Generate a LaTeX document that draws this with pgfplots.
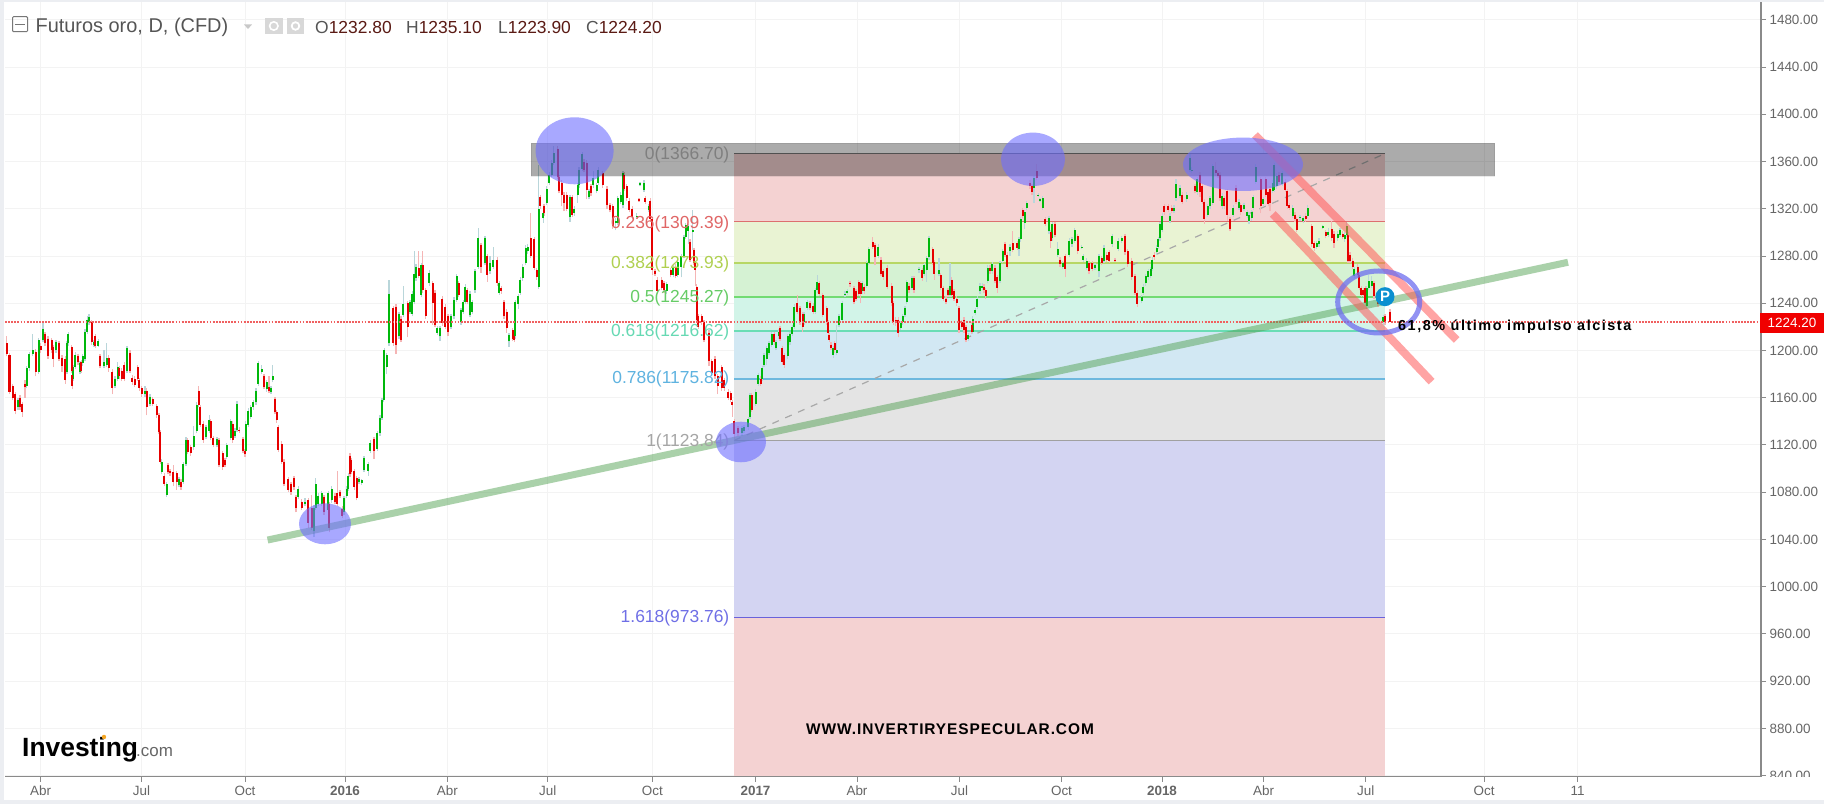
\documentclass[border=0pt]{standalone}
\usepackage{fontspec}
\usepackage{pgfplots}
\usepackage{pgfplotstable}
\pgfplotsset{compat=1.18}
\setmainfont{Liberation Sans}
\newfontfamily\noteone[LetterSpace=10.5]{Liberation Sans}
\newfontfamily\notetwo[LetterSpace=6]{Liberation Sans}
\newcommand{\fsz}[1]{\fontsize{#1}{#1}\selectfont}

\definecolor{upbody}{HTML}{00B80C}
\definecolor{dnbody}{HTML}{E60000}
\definecolor{upwick}{HTML}{B9D6DA}
\definecolor{dnwick}{HTML}{F5B5B5}
\definecolor{gridc}{HTML}{F3F3F3}
\definecolor{axisc}{HTML}{8A8A8A}
\definecolor{txtc}{HTML}{666666}
\definecolor{ohlc}{HTML}{5A1A14}
\definecolor{stripc}{HTML}{ECEEF2}
\newcommand{\hc}[1]{\definecolor{#1}{HTML}{#1}}
\hc{F4D2D2}\hc{E9F3D3}\hc{D5F2D3}\hc{D2F4E8}\hc{D2E8F3}\hc{E4E4E4}\hc{D3D4F2}
\hc{787878}\hc{DD6F6F}\hc{B7D765}\hc{72DB72}\hc{6ADDB5}\hc{6DB8DE}\hc{A0A0A0}\hc{6A62DA}
\hc{A8A8A8}\hc{F06060}\hc{4F9F4F}\hc{FF5A5A}\hc{7F7F7F}\hc{E06666}\hc{B0D050}\hc{66CC66}
\hc{66D9B3}\hc{5FB3E0}\hc{A6A6A6}\hc{6F6FE6}\hc{6E6EFF}\hc{6E6EF0}\hc{0A8FD0}\hc{F00000}
\hc{777777}\hc{555555}\hc{C8C8C8}\hc{D8D8D8}\hc{F5A623}\hc{666666}

% daily candles: pixel column of the date, open, close, high, low
\pgfplotstableread{
x o c h l
6.7 1206 1197 1212 1195
9.5 1196 1165 1198 1163
12.7 1170 1160 1172 1158
15.3 1163 1149 1165 1146
18 1152 1158 1160 1150
20 1160 1152 1162 1150
22.3 1155 1148 1156 1144
25 1172 1169 1175 1160
26.7 1170 1185 1187 1168
29.3 1185 1197 1199 1183
32.7 1197 1200 1214 1195
35.7 1199 1182 1201 1178
38.7 1182 1209 1211 1180
40.7 1204 1200 1206 1198
43 1209 1218 1224 1207
45 1214 1206 1216 1204
48 1210 1195 1212 1193
51.7 1209 1200 1211 1198
53.3 1203 1193 1205 1186
56 1200 1207 1209 1198
59 1206 1193 1208 1191
62 1194 1187 1196 1182
65.3 1193 1175 1195 1172
67 1182 1206 1208 1180
68.3 1206 1214 1216 1204
71.7 1203 1183 1205 1181
72.3 1179 1170 1181 1167
73.3 1176 1186 1188 1174
75.3 1186 1196 1199 1184
78 1195 1190 1197 1188
80 1182 1189 1191 1180
81.3 1190 1183 1192 1181
82.7 1189 1195 1197 1187
85 1193 1216 1218 1191
87.3 1216 1226 1229 1214
89 1224 1228 1231 1222
91.7 1224 1207 1226 1205
94 1205 1207 1209 1203
95.3 1212 1204 1214 1202
98.3 1204 1208 1210 1203
100 1195 1187 1197 1185
104 1187 1190 1200 1185
106.7 1188 1194 1206 1186
108.7 1194 1185 1196 1182
112.3 1182 1168 1184 1163
115 1170 1176 1178 1168
117.7 1176 1186 1190 1174
119.3 1185 1178 1187 1176
121.7 1183 1176 1185 1174
124.3 1188 1176 1190 1174
127 1183 1202 1204 1181
130 1198 1183 1200 1181
132.3 1177 1173 1179 1171
134.7 1176 1171 1178 1169
137.7 1186 1176 1188 1174
139.3 1175 1168 1177 1166
141.7 1168 1163 1170 1161
145 1163 1166 1170 1161
146.7 1166 1152 1168 1145
150 1155 1161 1163 1153
152.7 1159 1155 1161 1153
156.7 1153 1145 1155 1143
159 1145 1131 1147 1129
160.3 1131 1106 1133 1104
161.7 1097 1106 1108 1095
164.3 1094 1087 1096 1085
166.7 1078 1087 1089 1076
168 1103 1097 1105 1095
170 1098 1096 1100 1094
173.3 1097 1089 1103 1085
176.7 1096 1089 1098 1082
179 1086 1091 1093 1084
181 1089 1084 1091 1082
183.3 1089 1104 1106 1087
186 1104 1124 1127 1102
187.7 1124 1114 1126 1112
190.7 1118 1113 1120 1111
193.7 1118 1128 1136 1116
196.7 1132 1154 1156 1130
198.7 1166 1154 1170 1152
200.3 1152 1137 1154 1135
203.3 1138 1124 1140 1122
206 1127 1135 1137 1125
209.3 1132 1141 1145 1130
210.7 1140 1126 1142 1124
213.3 1126 1120 1128 1118
217 1120 1125 1127 1118
219 1124 1103 1126 1101
222.7 1113 1101 1115 1099
225 1107 1103 1109 1101
226.7 1110 1120 1122 1108
230.7 1126 1140 1142 1124
232.7 1138 1124 1140 1122
235 1128 1132 1134 1126
237 1133 1155 1157 1131
239.3 1133 1132 1135 1130
243 1125 1115 1127 1113
245 1115 1112 1117 1110
245.7 1115 1138 1140 1113
248.3 1137 1149 1151 1135
250.7 1144 1152 1154 1142
253.3 1152 1156 1158 1150
256 1156 1166 1168 1154
258.3 1172 1189 1191 1170
261.7 1182 1184 1188 1180
264 1178 1169 1180 1167
266.7 1167 1173 1175 1165
269 1169 1166 1178 1164
271 1165 1168 1170 1163
272.7 1175 1178 1188 1173
275 1159 1148 1161 1146
276.7 1148 1141 1150 1139
278.3 1135 1116 1137 1114
281.7 1121 1106 1123 1104
284 1106 1087 1108 1085
288.3 1091 1082 1093 1080
291 1087 1080 1089 1078
294 1092 1084 1094 1082
296 1076 1067 1078 1063
298.3 1076 1083 1085 1074
301.7 1072 1067 1074 1065
305 1070 1072 1075 1068
308.3 1073 1054 1075 1050
311.7 1067 1050 1078 1048
314 1047 1067 1069 1042
315.7 1067 1087 1092 1065
318.3 1070 1077 1079 1068
321.7 1070 1079 1081 1068
324 1076 1063 1078 1061
328.3 1065 1079 1081 1063
329.3 1070 1050 1072 1046
331.7 1073 1083 1085 1071
335 1077 1072 1079 1070
337.3 1079 1070 1098 1068
340 1080 1077 1082 1075
342.3 1066 1060 1068 1058
344 1063 1075 1077 1061
346.7 1077 1083 1085 1075
348.3 1083 1094 1096 1081
350 1111 1095 1113 1093
351.3 1107 1097 1109 1095
354.3 1098 1084 1100 1082
356.7 1092 1075 1094 1073
359 1089 1091 1093 1087
361.7 1088 1090 1091 1086
364 1099 1109 1111 1097
368.3 1098 1104 1106 1094
370.3 1115 1122 1124 1113
374 1125 1115 1127 1108
377.3 1117 1130 1132 1115
380 1130 1143 1145 1128
382 1143 1158 1160 1141
383.7 1158 1175 1177 1156
384.3 1175 1200 1202 1173
386.7 1186 1196 1198 1180
389 1206 1248 1260 1204
393.3 1236 1206 1238 1204
396 1237 1205 1239 1197
399 1212 1231 1233 1210
401 1227 1209 1229 1207
403.3 1230 1239 1255 1228
407.7 1240 1220 1242 1211
410 1233 1241 1243 1231
412.3 1231 1248 1250 1229
414.3 1241 1265 1284 1239
416 1261 1271 1273 1259
418.7 1270 1263 1284 1261
421.3 1247 1272 1274 1245
422.7 1272 1251 1284 1249
425.7 1251 1229 1253 1227
429.3 1257 1266 1268 1255
432.7 1257 1240 1259 1222
435 1249 1222 1251 1220
437.3 1215 1219 1221 1213
440 1212 1219 1221 1208
442.3 1244 1223 1246 1221
445.3 1237 1220 1239 1218
448 1229 1216 1231 1212
451 1220 1229 1231 1218
454 1229 1243 1245 1227
456.7 1243 1263 1265 1241
458.7 1257 1247 1259 1245
461 1224 1234 1236 1222
463.3 1233 1241 1243 1231
465.3 1241 1254 1256 1239
467.3 1251 1241 1253 1239
470 1230 1248 1250 1228
472.3 1233 1241 1243 1231
475 1251 1267 1269 1249
478.3 1271 1295 1304 1269
481 1289 1271 1291 1266
485 1274 1295 1297 1272
487.3 1280 1264 1282 1258
490 1267 1274 1280 1265
493.3 1271 1277 1288 1269
497.3 1277 1257 1279 1255
499.3 1249 1257 1259 1247
501.3 1253 1250 1255 1248
504 1241 1229 1243 1227
506.7 1233 1219 1235 1215
509 1208 1213 1215 1203
512.7 1217 1210 1219 1208
514.3 1212 1209 1214 1207
515.3 1212 1241 1243 1210
518.3 1239 1246 1248 1235
520.3 1249 1260 1262 1247
522.7 1261 1271 1273 1259
525.7 1274 1287 1289 1272
527.7 1284 1288 1290 1282
530.7 1295 1280 1316 1278
534.3 1294 1270 1296 1268
536.7 1268 1262 1270 1260
538.7 1254 1320 1357 1252
540.3 1330 1322 1332 1320
543.3 1312 1316 1318 1308
544 1322 1316 1324 1314
546.7 1325 1337 1339 1323
549.3 1342 1349 1351 1340
551.7 1349 1359 1361 1347
553.7 1359 1367 1373 1357
557.7 1371 1347 1373 1345
559 1347 1335 1349 1333
561.7 1342 1332 1344 1322
564 1332 1325 1334 1318
566.7 1332 1320 1334 1318
570 1313 1330 1332 1309
572.3 1330 1315 1332 1313
574.3 1316 1320 1322 1314
577.7 1332 1340 1342 1325
579 1340 1353 1355 1338
582.3 1354 1366 1368 1352
584 1360 1353 1362 1351
586.7 1359 1336 1361 1328
589 1330 1335 1337 1328
591 1339 1333 1341 1331
593.3 1340 1346 1352 1338
596.7 1335 1340 1342 1333
598.3 1342 1353 1355 1340
602.7 1350 1340 1352 1338
607 1337 1323 1339 1320
610 1323 1319 1325 1317
612.7 1322 1305 1324 1303
615.7 1308 1310 1312 1302
617.7 1308 1329 1331 1306
620.7 1326 1332 1334 1324
623 1323 1350 1352 1321
624.3 1349 1337 1351 1335
626.7 1339 1329 1341 1327
629.3 1327 1319 1329 1317
632.3 1320 1313 1322 1311
636.7 1313 1314 1316 1311
639 1328 1327 1329 1326
640 1340 1342 1343 1339
644 1336 1342 1344 1334
645.3 1329 1326 1331 1324
648.7 1319 1322 1324 1317
650.3 1327 1311 1329 1309
652.3 1311 1268 1313 1264
655 1267 1265 1269 1263
657.3 1260 1250 1262 1248
661.7 1260 1253 1262 1251
664 1257 1251 1259 1249
666.7 1250 1256 1258 1248
670.7 1268 1264 1270 1262
673.3 1264 1270 1272 1262
675.7 1271 1263 1273 1261
677.7 1264 1275 1277 1262
681.3 1271 1280 1282 1262
684 1280 1296 1298 1278
685.7 1296 1306 1308 1294
688.3 1301 1305 1307 1290
690 1292 1277 1294 1275
692.7 1300 1302 1319 1285
694 1285 1274 1287 1272
695.3 1274 1268 1276 1255
696.7 1254 1226 1256 1224
698.3 1229 1220 1231 1218
701.7 1229 1224 1231 1222
704 1224 1209 1226 1207
709 1215 1191 1217 1187
711.7 1191 1181 1193 1179
715 1193 1178 1195 1176
717.7 1178 1170 1180 1163
721.7 1186 1168 1188 1166
724.3 1175 1168 1177 1166
728.3 1165 1160 1167 1158
730.7 1164 1158 1166 1156
732.3 1156 1154 1158 1144
734.3 1140 1129 1142 1125
738 1134 1130 1136 1128
742 1130 1134 1136 1128
744 1132 1135 1137 1130
748.3 1135 1142 1144 1133
750 1144 1162 1164 1142
751.7 1162 1150 1164 1148
755.7 1155 1165 1167 1153
758.3 1172 1179 1181 1170
760.7 1176 1172 1178 1170
762.3 1176 1185 1187 1174
764 1188 1196 1198 1186
766.7 1193 1202 1204 1188
769 1198 1206 1208 1196
771.7 1205 1214 1216 1203
774.3 1214 1207 1216 1205
776 1202 1207 1209 1200
778.7 1212 1216 1218 1210
780 1219 1210 1221 1208
782.3 1202 1190 1204 1188
784.3 1196 1188 1198 1185
787.7 1195 1212 1214 1193
790 1207 1214 1216 1205
792.3 1214 1220 1222 1212
794.3 1220 1237 1239 1218
797.3 1240 1233 1247 1231
800 1236 1224 1238 1222
802.7 1231 1220 1233 1216
804 1224 1231 1233 1222
807.3 1236 1241 1243 1234
810 1240 1236 1242 1234
813.3 1238 1233 1240 1231
815.3 1233 1251 1253 1231
817.3 1251 1258 1264 1249
819.3 1257 1248 1259 1246
822.7 1247 1230 1249 1228
826.7 1236 1224 1238 1222
828.3 1224 1215 1226 1213
829.3 1213 1209 1215 1207
831 1205 1202 1207 1200
833.3 1196 1202 1204 1194
834.7 1206 1200 1208 1198
836.7 1198 1200 1222 1196
839 1222 1229 1231 1220
842.3 1226 1240 1242 1224
845 1247 1248 1250 1245
847.3 1249 1250 1252 1247
850 1257 1256 1259 1254
854 1253 1241 1255 1239
856 1250 1244 1252 1242
858.7 1258 1248 1260 1246
860.7 1257 1248 1259 1240
862.3 1250 1257 1259 1248
864.3 1254 1250 1256 1248
866.7 1255 1274 1276 1253
868.7 1274 1286 1288 1272
872.7 1292 1288 1296 1286
875 1289 1279 1291 1272
878.3 1280 1288 1290 1278
881 1277 1265 1279 1263
883.3 1267 1262 1269 1260
887.3 1270 1254 1272 1252
891.7 1255 1240 1257 1238
893.3 1240 1224 1242 1222
895.7 1226 1223 1228 1221
898.3 1226 1215 1228 1211
900.7 1219 1223 1225 1217
902.7 1224 1229 1231 1222
905 1230 1236 1238 1228
906.7 1241 1258 1260 1239
909 1255 1251 1257 1249
912 1253 1261 1263 1251
914 1261 1251 1263 1249
919 1268 1269 1271 1266
922.3 1268 1261 1270 1259
924.3 1265 1272 1274 1263
926.7 1268 1278 1280 1258
929 1279 1295 1297 1277
932.7 1286 1274 1288 1272
934.3 1275 1265 1277 1260
939 1265 1268 1278 1263
940.7 1264 1253 1266 1251
943.3 1253 1244 1255 1242
946 1244 1241 1246 1239
948 1251 1247 1253 1245
950 1247 1255 1274 1245
951.7 1260 1247 1262 1245
954 1250 1244 1252 1242
956.7 1244 1240 1246 1238
959 1236 1217 1238 1215
961.7 1224 1220 1226 1218
964 1226 1217 1228 1215
966 1220 1209 1222 1207
968.3 1210 1213 1215 1208
971.7 1222 1216 1224 1214
972.7 1216 1227 1229 1214
975.3 1232 1234 1236 1230
977.3 1237 1244 1246 1235
980 1250 1255 1257 1248
982.3 1253 1255 1257 1251
984 1254 1251 1256 1249
985.7 1251 1246 1253 1244
987.7 1259 1270 1272 1257
990 1270 1267 1272 1265
992.3 1267 1273 1275 1265
995 1270 1259 1272 1257
997.3 1262 1253 1264 1249
1000 1259 1274 1276 1257
1002.7 1276 1284 1286 1274
1005 1290 1281 1292 1279
1007.3 1281 1271 1283 1269
1010 1284 1288 1290 1280
1012.7 1291 1285 1301 1283
1017.3 1291 1287 1293 1285
1019 1286 1294 1296 1280
1020.7 1294 1311 1313 1292
1022.7 1319 1314 1321 1312
1024.7 1308 1317 1319 1303
1026.7 1321 1325 1327 1319
1030 1342 1339 1344 1337
1032 1339 1334 1341 1332
1034 1338 1346 1348 1325
1036.7 1352 1346 1358 1344
1038.3 1331 1332 1333 1330
1040 1327 1328 1329 1326
1042.7 1321 1329 1331 1319
1045.3 1311 1307 1313 1305
1049 1301 1312 1314 1299
1050.7 1300 1293 1302 1287
1052.3 1295 1307 1309 1293
1055 1307 1298 1309 1296
1057.7 1281 1286 1292 1279
1060 1277 1273 1279 1271
1062.7 1271 1274 1276 1269
1065.3 1280 1269 1282 1262
1069.3 1281 1293 1295 1279
1072 1290 1294 1296 1288
1074.7 1293 1302 1304 1291
1077.7 1297 1284 1299 1282
1081.7 1287 1288 1289 1286
1083.3 1277 1280 1282 1275
1086.7 1270 1276 1278 1268
1089 1274 1267 1276 1265
1092.3 1274 1269 1276 1267
1095 1270 1272 1274 1268
1099 1267 1280 1282 1262
1101.7 1278 1274 1280 1272
1104 1276 1287 1289 1274
1106.7 1281 1277 1283 1275
1109.3 1283 1276 1285 1274
1112.3 1290 1297 1299 1288
1115 1277 1276 1278 1275
1118.3 1286 1293 1295 1284
1121.7 1293 1295 1297 1291
1125 1297 1283 1299 1281
1127.7 1284 1273 1286 1271
1131.7 1276 1262 1278 1260
1135 1263 1249 1265 1247
1137.3 1249 1239 1251 1237
1141.7 1242 1245 1247 1240
1143.3 1249 1254 1256 1247
1145.7 1257 1263 1265 1255
1148.3 1262 1267 1269 1260
1150.7 1263 1269 1271 1261
1152.3 1269 1277 1279 1267
1154.3 1281 1279 1283 1277
1156.7 1283 1287 1289 1281
1158.3 1288 1294 1296 1286
1160 1295 1307 1309 1293
1162.3 1302 1314 1316 1300
1164.3 1322 1317 1324 1315
1168.3 1322 1319 1324 1317
1170 1310 1314 1316 1308
1171.7 1321 1318 1323 1316
1174 1318 1321 1323 1316
1176 1329 1341 1345 1327
1180 1331 1338 1340 1329
1182.3 1332 1326 1334 1324
1186.7 1328 1332 1334 1326
1190 1353 1363 1366 1351
1191.7 1352 1353 1355 1350
1195 1339 1335 1341 1333
1197.3 1334 1345 1347 1332
1200 1349 1334 1351 1330
1202.3 1339 1326 1341 1324
1204.3 1326 1311 1328 1307
1207.7 1315 1322 1324 1313
1210 1322 1329 1331 1320
1212.7 1325 1356 1358 1323
1215.7 1353 1350 1360 1348
1218 1350 1348 1352 1346
1220 1349 1329 1351 1327
1222.3 1322 1331 1333 1320
1224.3 1329 1322 1331 1320
1227.3 1335 1315 1337 1310
1230 1311 1303 1313 1301
1233.3 1315 1321 1323 1313
1236 1338 1326 1340 1324
1239 1321 1326 1328 1319
1240.7 1323 1317 1325 1315
1244 1320 1323 1325 1318
1247.3 1314 1317 1319 1312
1249 1310 1315 1317 1307
1251.7 1312 1317 1319 1310
1253.3 1321 1330 1332 1319
1255.7 1343 1355 1358 1341
1260.7 1345 1322 1347 1316
1263.3 1324 1328 1330 1322
1265.7 1345 1332 1347 1330
1268.3 1334 1324 1336 1322
1270 1337 1325 1339 1318
1272.7 1335 1342 1344 1333
1274.3 1336 1357 1359 1334
1276.7 1339 1348 1350 1337
1279 1349 1343 1351 1341
1282.3 1341 1350 1352 1339
1285.3 1343 1336 1345 1334
1287.3 1335 1322 1337 1320
1289.3 1323 1321 1325 1319
1292.7 1314 1321 1323 1312
1295 1315 1311 1317 1309
1296.7 1311 1302 1313 1300
1300 1312 1313 1315 1310
1303.3 1310 1312 1314 1308
1305.7 1314 1311 1316 1309
1307.7 1314 1321 1323 1312
1311.7 1305 1290 1307 1288
1314.3 1291 1287 1293 1284
1316.7 1288 1291 1293 1286
1319 1290 1293 1295 1288
1322.7 1304 1305 1306 1303
1325.7 1300 1297 1302 1295
1328.3 1298 1300 1304 1296
1331.7 1303 1295 1310 1293
1334 1299 1291 1301 1287
1337.7 1295 1299 1301 1293
1340 1298 1302 1304 1296
1342.7 1299 1296 1301 1294
1344.7 1294 1298 1300 1292
1346.7 1298 1305 1309 1296
1348 1298 1276 1300 1274
1350 1281 1276 1283 1274
1352.7 1276 1271 1278 1269
1354.3 1263 1269 1271 1261
1357.7 1271 1264 1273 1262
1359.3 1264 1253 1266 1251
1361.3 1253 1247 1255 1245
1363.3 1251 1247 1253 1245
1365.3 1253 1240 1255 1238
1366.7 1238 1253 1255 1235
1368.7 1253 1259 1264 1251
1371.7 1255 1259 1263 1253
1374 1257 1246 1259 1244
1378 1246 1239 1248 1237
1383.3 1224 1228 1230 1222
1385 1229 1224 1231 1222
1390 1232.8 1224.2 1235.1 1223.9
}\candles

\begin{document}
\begin{tikzpicture}
% page is 1824x804, one pixel to the bp; axis box starts at pixel (5,776.7)
\useasboundingbox (-5bp,-27.3bp) rectangle (1819bp,776.7bp);
\begin{scope}[xshift=-5bp,yshift=776.7bp,x=1bp,y=-1bp]
\fill[white] (0,0) rectangle (1824,804);
\fill[stripc] (0,0) rectangle (4,804);
\fill[stripc] (0,0) rectangle (1824,2);
\fill[stripc] (0,800) rectangle (1824,804);
\end{scope}
\begin{axis}[
  scale only axis,
  width=1756bp,
  height=774.7bp,
  xmin=5, xmax=1761,
  ymin=839.1, ymax=1495.1,
  axis x line*=bottom,
  axis y line*=right,
  axis line style={axisc,line width=1.3bp,-},
  xtick={40.7,141.5,245,345,447.4,547.7,652.4,755.5,857,959.4,1061.5,1162,1263.6,1365.8,1484,1577.7},
  xticklabels={Abr,Jul,Oct,\textbf{2016},Abr,Jul,Oct,\textbf{2017},Abr,Jul,Oct,\textbf{2018},Abr,Jul,Oct,11},
  ytick={840,880,...,1480},
  grid=major,
  grid style={gridc,line width=1bp},
  tick style={axisc,line width=1bp},
  tick align=outside,
  major tick length=5bp,
  tick label style={font=\fsz{13.5},text=txtc},
  y tick label style={/pgf/number format/.cd,fixed,fixed zerofill,precision=2,1000 sep={},assume math mode=true},
  xticklabel style={yshift=-1bp},
  clip=true,
]
% fibonacci bands
\addplot[fill=F4D2D2,draw=none,forget plot] coordinates {(734,1366.7)(1385,1366.7)(1385,1309.39)(734,1309.39)} --cycle;
\addplot[fill=E9F3D3,draw=none,forget plot] coordinates {(734,1309.39)(1385,1309.39)(1385,1273.93)(734,1273.93)} --cycle;
\addplot[fill=D5F2D3,draw=none,forget plot] coordinates {(734,1273.93)(1385,1273.93)(1385,1245.27)(734,1245.27)} --cycle;
\addplot[fill=D2F4E8,draw=none,forget plot] coordinates {(734,1245.27)(1385,1245.27)(1385,1216.62)(734,1216.62)} --cycle;
\addplot[fill=D2E8F3,draw=none,forget plot] coordinates {(734,1216.62)(1385,1216.62)(1385,1175.82)(734,1175.82)} --cycle;
\addplot[fill=E4E4E4,draw=none,forget plot] coordinates {(734,1175.82)(1385,1175.82)(1385,1123.84)(734,1123.84)} --cycle;
\addplot[fill=D3D4F2,draw=none,forget plot] coordinates {(734,1123.84)(1385,1123.84)(1385,973.76)(734,973.76)} --cycle;
\addplot[fill=F4D2D2,draw=none,forget plot] coordinates {(734,973.76)(1385,973.76)(1385,840)(734,840)} --cycle;
% fibonacci levels
\addplot[color=787878,line width=1.6bp,forget plot] coordinates {(734,1366.7)(1385,1366.7)};
\addplot[color=DD6F6F,line width=1.6bp,forget plot] coordinates {(734,1309.39)(1385,1309.39)};
\addplot[color=B7D765,line width=1.6bp,forget plot] coordinates {(734,1273.93)(1385,1273.93)};
\addplot[color=72DB72,line width=1.6bp,forget plot] coordinates {(734,1245.27)(1385,1245.27)};
\addplot[color=6ADDB5,line width=1.6bp,forget plot] coordinates {(734,1216.62)(1385,1216.62)};
\addplot[color=6DB8DE,line width=1.6bp,forget plot] coordinates {(734,1175.82)(1385,1175.82)};
\addplot[color=A0A0A0,line width=1.6bp,forget plot] coordinates {(734,1123.84)(1385,1123.84)};
\addplot[color=6A62DA,line width=1.6bp,forget plot] coordinates {(734,973.76)(1385,973.76)};
% diagonal of the retracement
\addplot[color=A8A8A8,line width=1.2bp,dash pattern=on 7bp off 7bp,forget plot] coordinates {(734,1123.84)(1385,1366.7)};
% candle wicks and bodies
\addplot[draw=none,forget plot,error bars/.cd,y dir=plus,y explicit,error mark=none,error bar style={line width=1.1bp,upwick,solid}]
  table[x=x,y=l,y error plus expr={\thisrow{c}>=\thisrow{o} ? \thisrow{h}-\thisrow{l} : 0}] {\candles};
\addplot[draw=none,forget plot,error bars/.cd,y dir=plus,y explicit,error mark=none,error bar style={line width=1.1bp,dnwick,solid}]
  table[x=x,y=l,y error plus expr={\thisrow{c}<\thisrow{o} ? \thisrow{h}-\thisrow{l} : 0}] {\candles};
\addplot[draw=none,forget plot,error bars/.cd,y dir=plus,y explicit,error mark=none,error bar style={line width=2.1bp,upbody,solid}]
  table[x=x,y=o,y error plus expr={max(\thisrow{c}-\thisrow{o},0)}] {\candles};
\addplot[draw=none,forget plot,error bars/.cd,y dir=minus,y explicit,error mark=none,error bar style={line width=2.1bp,dnbody,solid}]
  table[x=x,y=o,y error minus expr={max(\thisrow{o}-\thisrow{c},0)}] {\candles};
% last price
\addplot[color=F06060,line width=1.5bp,dash pattern=on 1.8bp off 1.3bp,forget plot] coordinates {(5,1224.2)(1761,1224.2)};
% resistance band, trend line, channel
\addplot[fill=black,fill opacity=0.33,draw=black,draw opacity=0.08,forget plot] coordinates {(531,1375.4)(1494.5,1375.4)(1494.5,1348)(531,1348)} --cycle;
\addplot[color=4F9F4F,opacity=0.48,line width=7bp,forget plot] coordinates {(267.6,1039.5)(1568,1274.7)};
\addplot[color=FF5A5A,opacity=0.55,line width=8bp,forget plot] coordinates {(1255,1382.5)(1456.7,1208.9)};
\addplot[color=FF5A5A,opacity=0.55,line width=8bp,forget plot] coordinates {(1272.8,1315.6)(1431.6,1173.6)};
% fibonacci labels
\node[anchor=east,inner sep=0,font=\fsz{17.5},text=7F7F7F] at (axis cs:729.5,1365.5) {0(1366.70)};
\node[anchor=east,inner sep=0,font=\fsz{17.5},text=E06666] at (axis cs:729.5,1307.5) {0.236(1309.39)};
\node[anchor=east,inner sep=0,font=\fsz{17.5},text=B0D050] at (axis cs:729.5,1273) {0.382(1273.93)};
\node[anchor=east,inner sep=0,font=\fsz{17.5},text=66CC66] at (axis cs:729.5,1244.5) {0.5(1245.27)};
\node[anchor=east,inner sep=0,font=\fsz{17.5},text=66D9B3] at (axis cs:729.5,1215.5) {0.618(1216.62)};
\node[anchor=east,inner sep=0,font=\fsz{17.5},text=5FB3E0] at (axis cs:729.5,1175.5) {0.786(1175.82)};
\node[anchor=east,inner sep=0,font=\fsz{17.5},text=A6A6A6] at (axis cs:729.5,1122.8) {1(1123.84)};
\node[anchor=east,inner sep=0,font=\fsz{17.5},text=6F6FE6] at (axis cs:729.5,973.8) {1.618(973.76)};
\end{axis}
\begin{scope}[xshift=-5bp,yshift=776.7bp,x=1bp,y=-1bp]
% marks drawn over the chart
\fill[6E6EFF,opacity=0.6] (574.6,150.8) ellipse [x radius=39,y radius=33.5];
\fill[6E6EFF,opacity=0.6] (325,523.8) ellipse [x radius=26,y radius=20.5];
\fill[6E6EFF,opacity=0.6] (741,442) ellipse [x radius=25,y radius=20.3];
\fill[6E6EFF,opacity=0.6] (1033,159.3) ellipse [x radius=32,y radius=26.7];
\fill[6E6EFF,opacity=0.6] (1243,164.3) ellipse [x radius=60,y radius=26.7];
\draw[6E6EF0,opacity=0.75,line width=5bp] (1378.7,302) ellipse [x radius=41,y radius=31];
\fill[0A8FD0] (1385,296.7) circle [radius=9.5];
\node[text=white,font=\fsz{15}\bfseries,inner sep=0] at (1385,296.7) {P};
% price tag, and the white behind the cut 840 label
\fill[white] (1762,777.5) rectangle (1824,800);
\fill[F00000] (1760,312.7) rectangle (1824,332.7);
\node[text=white,font=\fsz{13.5},inner sep=0] at (1792,322.7) {1224.20};
% notes
\node[anchor=west,inner sep=0,font=\noteone\fsz{14.5}\bfseries,text=black] at (1398,327) {61,8\% último impulso alcista};
\node[anchor=west,inner sep=0,font=\notetwo\fsz{15.5}\bfseries,text=black] at (806,728.7) {WWW.INVERTIRYESPECULAR.COM};
% header
\draw[777777,line width=1bp,rounded corners=1bp] (12.6,16.7) rectangle (27.6,31.7);
\draw[777777,line width=1bp] (15,24.2) -- (25,24.2);
\node[anchor=west,inner sep=0,font=\fsz{20},text=555555] at (35.4,27.3) {Futuros oro, D, (CFD)};
\fill[C8C8C8] (244,24.5) -- (252,24.5) -- (248,29) -- cycle;
\fill[D8D8D8] (265,18) rectangle (282.6,34);
\fill[D8D8D8] (287,18) rectangle (304,34);
\draw[white,line width=1.6bp] (273.8,26) circle [radius=4.2];
\draw[white,line width=1.8bp] (295.5,26) circle [radius=3.8];
\node[anchor=west,inner sep=0,font=\fsz{17.5},text=555555] at (315,27.5) {O\textcolor{ohlc}{1232.80}};
\node[anchor=west,inner sep=0,font=\fsz{17.5},text=555555] at (406,27.5) {H\textcolor{ohlc}{1235.10}};
\node[anchor=west,inner sep=0,font=\fsz{17.5},text=555555] at (498,27.5) {L\textcolor{ohlc}{1223.90}};
\node[anchor=west,inner sep=0,font=\fsz{17.5},text=555555] at (586,27.5) {C\textcolor{ohlc}{1224.20}};
% logo
\node[anchor=base west,inner sep=0,font=\fsz{26.5}\bfseries,text=black] at (22,757) {Investing};
\node[anchor=base west,inner sep=0,font=\fsz{17},text=666666] at (136,757) {.com};
\fill[F5A623] (104,737) circle [radius=2.2];
\end{scope}
\end{tikzpicture}
\end{document}
